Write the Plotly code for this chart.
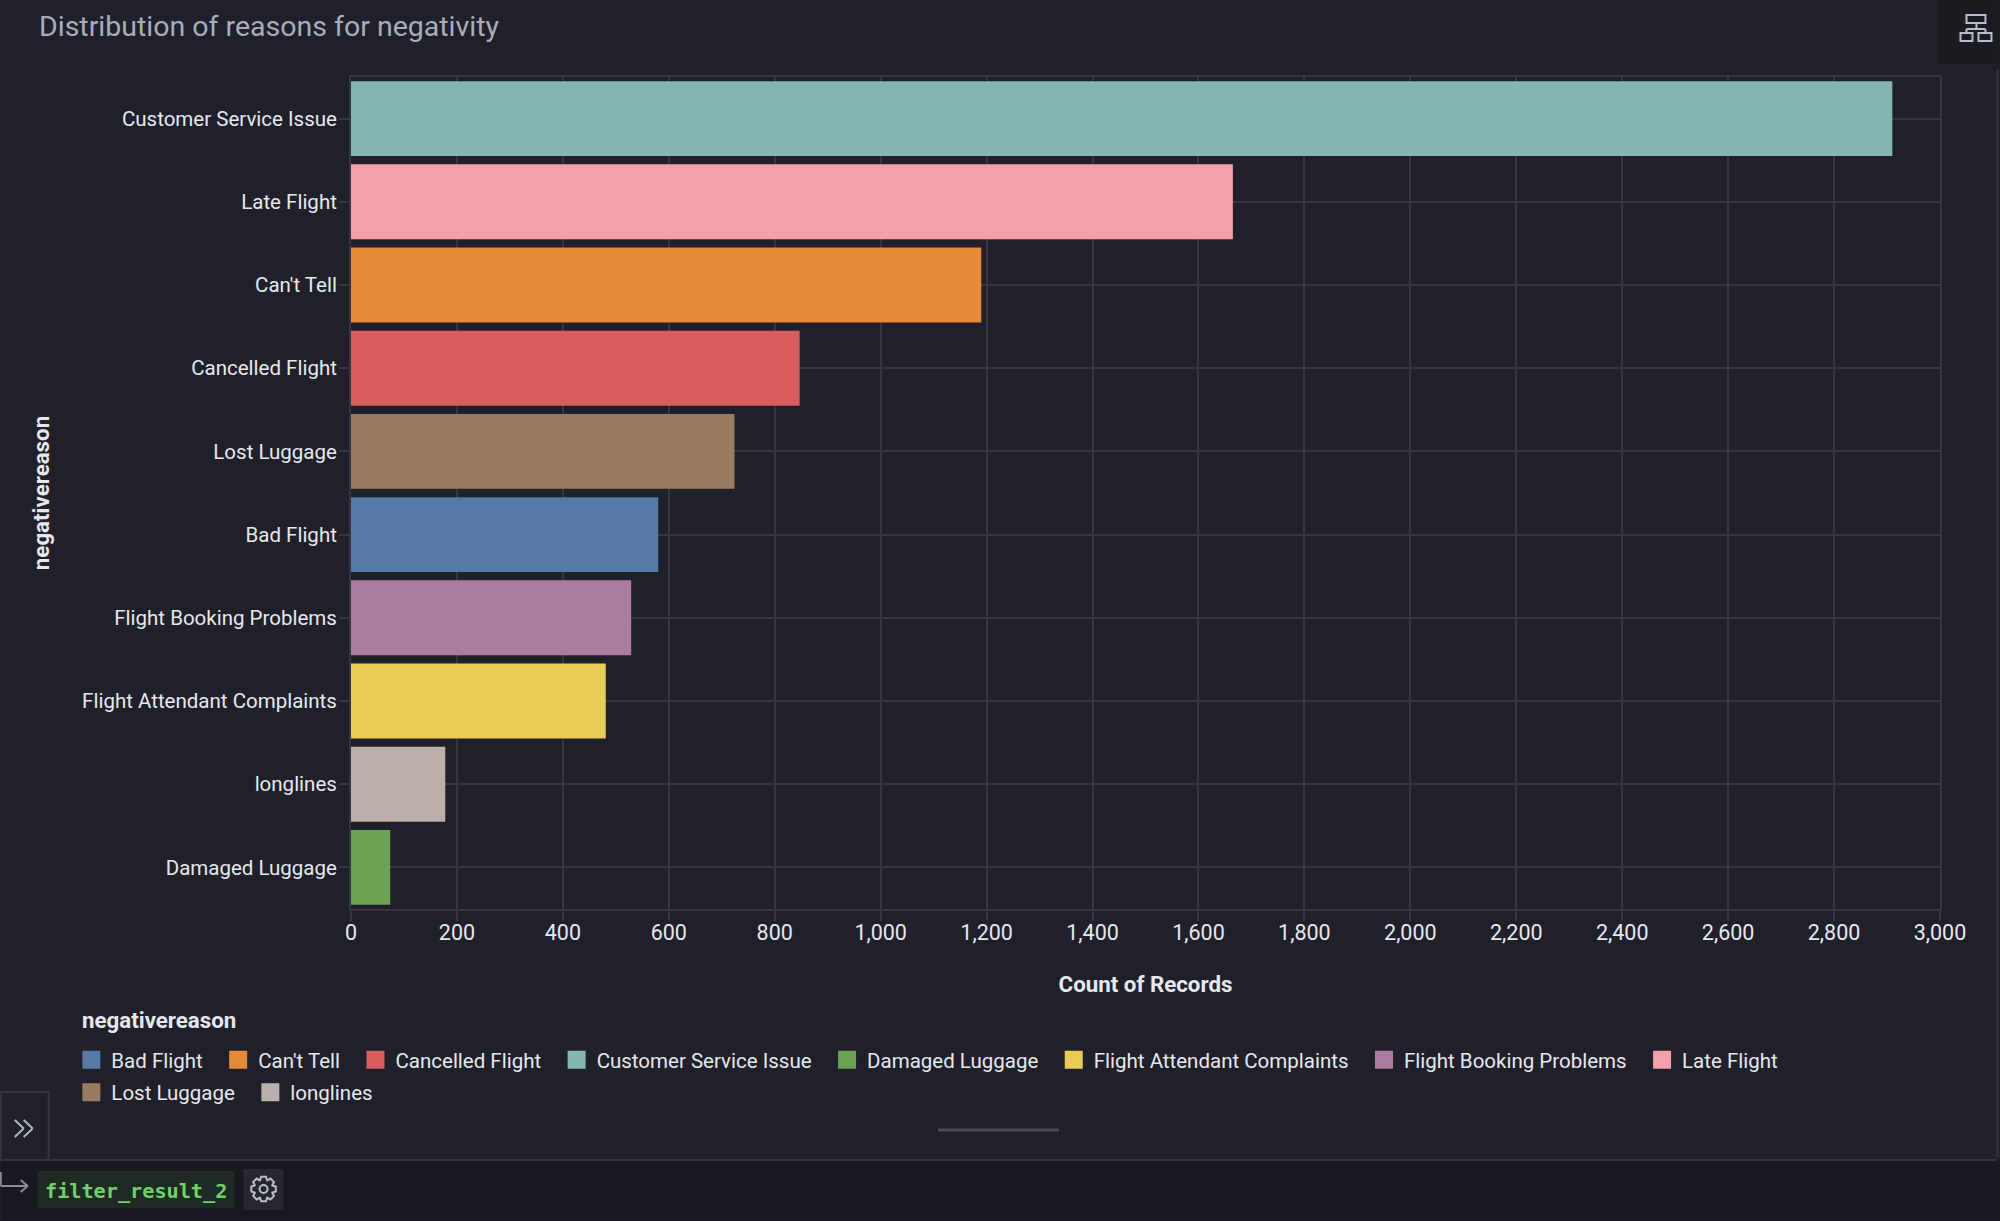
import math
import plotly.graph_objects as go

categories = ["Customer Service Issue", "Late Flight", "Can't Tell", "Cancelled Flight", "Lost Luggage",
              "Bad Flight", "Flight Booking Problems", "Flight Attendant Complaints", "longlines", "Damaged Luggage"]
counts = [2910, 1665, 1190, 847, 724, 580, 529, 481, 178, 74]
bar_colors = ["#85B6B2", "#F4A0A8", "#E68A39", "#D85E5E", "#987B61",
              "#5679A6", "#AB7CA0", "#E9CB57", "#BBB1AA", "#6BA354"]
legend_row_1 = ["Bad Flight", "Can't Tell", "Cancelled Flight", "Customer Service Issue", "Damaged Luggage",
                "Flight Attendant Complaints", "Flight Booking Problems", "Late Flight"]
legend_row_2 = ["Lost Luggage", "longlines"]
x_ticks = list(range(0, 3001, 200))

W, H = 2000, 1221
L, R, T, B = 350.5, 1940.5, 77, 909
BG, LOW, GRID = "#1f2029", "#191a21", "#343541"
FONT = "Roboto"
TXT = "#e6e8ee"
ICON = "#b9bcc9"

def px(x): return (x - L) / (R - L)
def py(y): return (B - y) / (B - T)

fig = go.Figure()
for name, val, col in zip(categories, counts, bar_colors):
    fig.add_trace(go.Bar(x=[val], y=[name], orientation="h", name=name, legendgroup=name, showlegend=False,
                         marker=dict(color=col, line=dict(width=0)), hovertemplate="%{y}: %{x}<extra></extra>"))
for legend_id, row in (("legend", legend_row_1), ("legend2", legend_row_2)):
    for name in row:
        col = bar_colors[categories.index(name)]
        fig.add_trace(go.Scatter(x=[None], y=[None], mode="markers", name=name + "\u2002", legendgroup=name,
                                 legend=legend_id,
                                 marker=dict(symbol="square", size=16, color=col, line=dict(color=col, width=2))))

def rect(x0, y0, x1, y1, fill="rgba(0,0,0,0)", line=None, lw=0):
    return dict(type="rect", xref="paper", yref="paper", x0=px(x0), x1=px(x1), y0=py(y0), y1=py(y1),
                fillcolor=fill, line=dict(color=line or "rgba(0,0,0,0)", width=lw), layer="below")

def seg(x0, y0, x1, y1, col, lw=2):
    return dict(type="line", xref="paper", yref="paper", x0=px(x0), x1=px(x1), y0=py(y0), y1=py(y1),
                line=dict(color=col, width=lw), layer="above")

def gear(cx, cy, teeth=8, ro=12.5, ri=9.5):
    pts = []
    step = 2 * math.pi / teeth
    for i in range(teeth):
        a = i * step
        for da, r in ((-0.30, ri), (-0.16, ro), (0.16, ro), (0.30, ri)):
            pts.append((cx + r * math.cos(a + da * step * 1.6), cy + r * math.sin(a + da * step * 1.6)))
    d = "M" + "L".join(f"{px(x):.5f},{py(y):.5f}" for x, y in pts) + "Z"
    return dict(type="path", xref="paper", yref="paper", path=d, line=dict(color=ICON, width=2), layer="above")

shapes = [
    rect(0, 1160, W, H, fill=LOW),
    seg(0, 1160, 1997, 1160, "#33343f", 2),
    seg(1998, 70, 1998, 1158, "#33343f", 2),
    rect(1938, 0, W, 64, fill="#1b1c22"),
    rect(0, 1092, 48, 1160, fill=BG, line="#33343f", lw=2),
    seg(938, 1130, 1059, 1130, "#4a4b57", 3),
    # tree icon, top right
    rect(1967, 15, 1986, 23, line=ICON, lw=2),
    rect(1961, 33, 1973, 41, line=ICON, lw=2),
    rect(1979, 33, 1992, 41, line=ICON, lw=2),
    seg(1977, 23, 1977, 29, ICON), seg(1967, 29, 1986, 29, ICON),
    seg(1967, 29, 1967, 33, ICON), seg(1986, 29, 1986, 33, ICON),
    # collapse chevrons
    seg(14, 1120, 23, 1128.5, "#b0b2bd"), seg(23, 1128.5, 14, 1137, "#b0b2bd"),
    seg(23, 1120, 32, 1128.5, "#b0b2bd"), seg(32, 1128.5, 23, 1137, "#b0b2bd"),
    # result arrow and tag
    seg(0, 1172, 0, 1186, "#8a8c98"), seg(0, 1186, 27, 1186, "#8a8c98"),
    seg(20, 1180, 27, 1186, "#8a8c98"), seg(20, 1192, 27, 1186, "#8a8c98"),
    rect(37, 1171, 234, 1208, fill="#1f2a24"),
    rect(243, 1169, 283, 1210, fill="#262730"),
    gear(263, 1189),
    dict(type="circle", xref="paper", yref="paper", x0=px(259), x1=px(267), y0=py(1193), y1=py(1185),
         line=dict(color=ICON, width=2), layer="above"),
]
for s in shapes:
    if s["type"] == "rect" and s["fillcolor"] == "rgba(0,0,0,0)":
        s["layer"] = "above"

def note(text, x, y, size, color=TXT, family=FONT, xanchor="left", weight=None):
    return dict(text=text, xref="paper", yref="paper", x=px(x), y=py(y), showarrow=False, xanchor=xanchor,
                yanchor="middle", font=dict(size=size, color=color, family=family, weight=weight))

annotations = [
    note("Distribution of reasons for negativity", 36, 26, 28.5, color="#a9adbb"),
    note("negativereason", 79, 1020, 22.3, weight=700),
    note("filter_result_2", 42, 1191, 20.2, color="#6fd36a", family="DejaVu Sans Mono", weight=700),
]

row_legend = dict(orientation="h", x=-0.176, xanchor="left", yanchor="top", bgcolor="rgba(0,0,0,0)",
                  traceorder="normal", itemsizing="trace", itemclick=False, itemdoubleclick=False,
                  font=dict(size=20.5, color=TXT, family=FONT))

fig.update_layout(
    width=W, height=H, autosize=False, paper_bgcolor=BG, plot_bgcolor=BG,
    margin=dict(l=L, r=W - R, t=T, b=H - B, pad=0),
    barmode="overlay", bargap=0.1, showlegend=True,
    font=dict(family=FONT, size=20, color=TXT),
    shapes=shapes, annotations=annotations,
    legend=dict(row_legend, y=-0.1574),
    legend2=dict(row_legend, y=-0.1965),
    xaxis=dict(range=[0, 3000], tickvals=x_ticks, tickformat=",", showgrid=True, gridcolor=GRID, gridwidth=2,
               showline=True, linecolor=GRID, linewidth=2, mirror=True, zeroline=False,
               ticks="outside", ticklen=10, tickwidth=2, tickcolor=GRID, tickfont=dict(size=21.5, color=TXT),
               ticklabelstandoff=-7,
               title=dict(text="Count of Records", standoff=33, font=dict(size=22.3, color=TXT, weight=700))),
    yaxis=dict(categoryorder="array", categoryarray=categories, autorange=False, range=[9.5, -0.5], type="category",
               showgrid=True, gridcolor=GRID, gridwidth=2, showline=True, linecolor=GRID, linewidth=2, mirror=True,
               zeroline=False, ticks="outside", ticklen=10, tickwidth=2, tickcolor=GRID,
               tickfont=dict(size=20.5, color=TXT), ticklabelstandoff=-2,
               title=dict(text="negativereason", standoff=26, font=dict(size=22.3, color=TXT, weight=700))),
)
fig.write_html("out.html", config={"displayModeBar": False},
               post_script="document.body.style.margin='0';document.body.style.background='#1f2029';")
